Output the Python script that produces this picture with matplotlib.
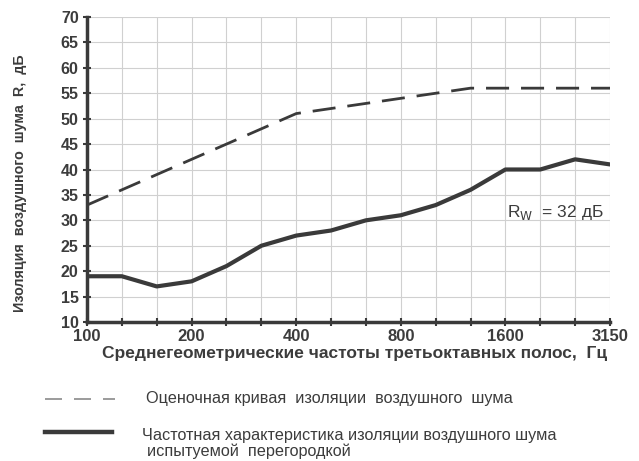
import matplotlib
matplotlib.use("Agg")
import matplotlib.pyplot as plt
from matplotlib.lines import Line2D

freqs = ["100", "125", "160", "200", "250", "315", "400", "500", "630", "800",
         "1000", "1250", "1600", "2000", "2500", "3150"]
measured = [19, 19, 17, 18, 21, 25, 27, 28, 30, 31, 33, 36, 40, 40, 42, 41]
reference = [33, 36, 39, 42, 45, 48, 51, 52, 53, 54, 55, 56, 56, 56, 56, 56]
shown_ticks = ["100", "200", "400", "800", "1600", "3150"]
yticks = list(range(10, 75, 5))

plt.rcParams['font.family'] = ['Liberation Sans', 'DejaVu Sans']

W, H = 639, 461
fig = plt.figure(figsize=(W / 100, H / 100), dpi=100)
ax = fig.add_axes([87 / W, 1 - 322 / H, (610 - 87) / W, (322 - 17) / H])
x = list(range(len(freqs)))
dark = "#3a3a3a"
txt = "#3c3c3c"
ax.plot(x, reference, color=dark, lw=2.0, dashes=(8.3, 4.3))
ax.plot(x, measured, color=dark, lw=3.0, solid_joinstyle='round')

ax.set_xlim(0, len(freqs) - 1)
ax.set_ylim(10, 70)
ax.set_xticks(x)
ax.set_xticklabels([f if f in shown_ticks else "" for f in freqs],
                   fontsize=12, fontweight='bold', color=txt)
ax.set_yticks(yticks)
ax.set_yticklabels([str(v) for v in yticks], fontsize=11.5, fontweight='bold', color=txt)
ax.grid(True, color="#d0d0d0", lw=0.8)
ax.set_axisbelow(True)
for s in ["top", "right"]:
    ax.spines[s].set_visible(False)
for s in ["left", "bottom"]:
    ax.spines[s].set_color(dark)
    ax.spines[s].set_linewidth(2.5)
ax.tick_params(axis='both', direction='inout', length=6, width=1.5, color=dark)
ax.tick_params(axis='y', pad=3)
ax.tick_params(axis='x', pad=2)

fig.text((87 + 610) / 2 / W + 0.01, 1 - 346 / H,
         "Среднегеометрические частоты третьоктавных полос,  Гц",
         fontsize=12.5, fontweight='bold', color=txt, ha='center', va='top')
fig.text(20 / W, 1 - 183 / H, "Изоляция  воздушного  шума  R,  дБ", fontsize=10.3,
         fontweight='bold', color=txt, rotation=90, ha='center', va='center')

ax.text(12.05, 31.5, r"R$_{\mathrm{W}}$  = 32 дБ", fontsize=12.5, color=txt,
        va='center', ha='left')

# legend drawn below the axes
fig.add_artist(Line2D([45 / W, 115 / W], [1 - 399 / H] * 2, color="#8a8a8a", lw=1.2,
                      dashes=(10.2, 7.2)))
fig.text(146 / W, 1 - 398 / H, "Оценочная кривая  изоляции  воздушного  шума",
         fontsize=11.7, color=txt, va='center')
fig.add_artist(Line2D([45 / W, 112 / W], [1 - 432 / H] * 2, color=dark, lw=3.2))
fig.text(142 / W, 1 - 435 / H, "Частотная характеристика изоляции воздушного шума",
         fontsize=11.7, color=txt, va='center')
fig.text(147 / W, 1 - 451 / H, "испытуемой  перегородкой",
         fontsize=11.7, color=txt, va='center')

fig.savefig("out.png", dpi=100, facecolor="white")
